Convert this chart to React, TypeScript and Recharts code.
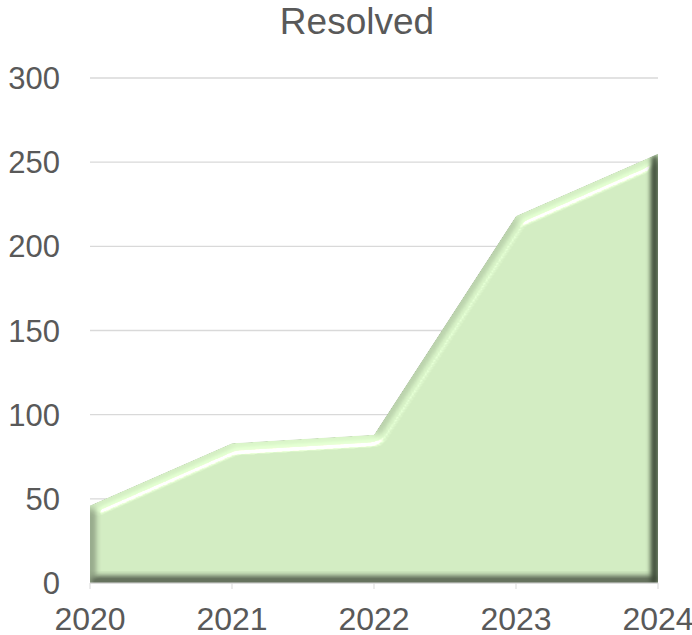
import React from "react";
import {
  Area,
  AreaChart,
  CartesianGrid,
  XAxis,
  YAxis,
} from "recharts";

// Resolved count per year - single bevelled area series.
const YEARS = ["2020", "2021", "2022", "2023", "2024"];
const RESOLVED = [46, 83, 88, 218, 255];
const Y_TICKS = [0, 50, 100, 150, 200, 250, 300];

const TEXT = "#595959";
const GRID = "#d9d9d9";
const FILL = "#d0eac0";

const data = YEARS.map((year, i) => ({ year, resolved: RESOLVED[i] }));

// Office-style "bevel": light the blurred alpha as a height map. Diffuse light
// scales the fill (flat interior unchanged), specular adds the white rim on the
// upper edges, and an extra band darkens the right-hand edge.
function BevelFilter() {
  return (
    <filter
      id="bevel"
      x="-5%"
      y="-5%"
      width="110%"
      height="110%"
      colorInterpolationFilters="sRGB"
    >
      <feMorphology in="SourceAlpha" operator="erode" radius="1" result="er" />
      <feGaussianBlur in="er" stdDeviation="4.3" result="blur" />
      <feDiffuseLighting
        in="blur"
        surfaceScale="10"
        diffuseConstant="1"
        lightingColor="#ffffff"
        result="light"
      >
        <feDistantLight azimuth="270" elevation="55" />
      </feDiffuseLighting>
      <feComposite
        in="SourceGraphic"
        in2="light"
        operator="arithmetic"
        k1="0.62"
        k2="0.492"
        result="lit"
      />
      <feSpecularLighting
        in="blur"
        surfaceScale="10"
        specularConstant="1"
        specularExponent="90"
        lightingColor="#ffffff"
        result="spec"
      >
        <feDistantLight azimuth="270" elevation="55" />
      </feSpecularLighting>
      <feComposite
        in="lit"
        in2="spec"
        operator="arithmetic"
        k2="1"
        k3="0.85"
        result="lit2"
      />
      <feOffset in="SourceAlpha" dx="-7" dy="0" result="shift" />
      <feComposite
        in="SourceAlpha"
        in2="shift"
        operator="arithmetic"
        k2="1"
        k3="-1"
        result="band"
      />
      <feGaussianBlur in="band" stdDeviation="2.5" result="bandBlur" />
      <feFlood floodColor="#2c3828" floodOpacity="0.85" />
      <feComposite in2="bandBlur" operator="in" result="rs" />
      <feMerge result="all">
        <feMergeNode in="lit2" />
        <feMergeNode in="rs" />
      </feMerge>
      <feComposite in="all" in2="SourceAlpha" operator="in" />
    </filter>
  );
}

export default function App() {
  return (
    <div
      style={{
        position: "absolute",
        left: 0,
        top: 0,
        width: 692,
        height: 635,
        background: "#fff",
        fontFamily: "'Liberation Sans', Arial, sans-serif",
      }}
    >
      <style>{`.bevel-area .recharts-area-area { filter: url(#bevel); }`}</style>
      <div
        style={{
          position: "absolute",
          left: 0,
          top: 0,
          width: 714,
          textAlign: "center",
          fontSize: 37,
          lineHeight: "44px",
          color: TEXT,
        }}
      >
        Resolved
      </div>
      <AreaChart
        width={692}
        height={635}
        data={data}
        margin={{ top: 78, right: 34, bottom: 0, left: 0 }}
      >
        <defs>
          <BevelFilter />
        </defs>
        <CartesianGrid stroke={GRID} strokeWidth={1.3} vertical={false} />
        <XAxis
          dataKey="year"
          tick={{ fill: TEXT, fontSize: 32 }}
          tickSize={6}
          tickMargin={18}
          stroke={GRID}
          tickLine={{ stroke: GRID }}
          axisLine={{ stroke: GRID }}
          height={52}
          interval={0}
        />
        <YAxis
          domain={[0, 300]}
          ticks={Y_TICKS}
          width={90}
          tick={{ fill: TEXT, fontSize: 31 }}
          tickSize={0}
          tickMargin={30}
          tickLine={false}
          axisLine={false}
        />
        <Area
          className="bevel-area"
          type="linear"
          dataKey="resolved"
          fill={FILL}
          fillOpacity={1}
          stroke="none"
          isAnimationActive={false}
          dot={false}
          activeDot={false}
        />
      </AreaChart>
    </div>
  );
}
